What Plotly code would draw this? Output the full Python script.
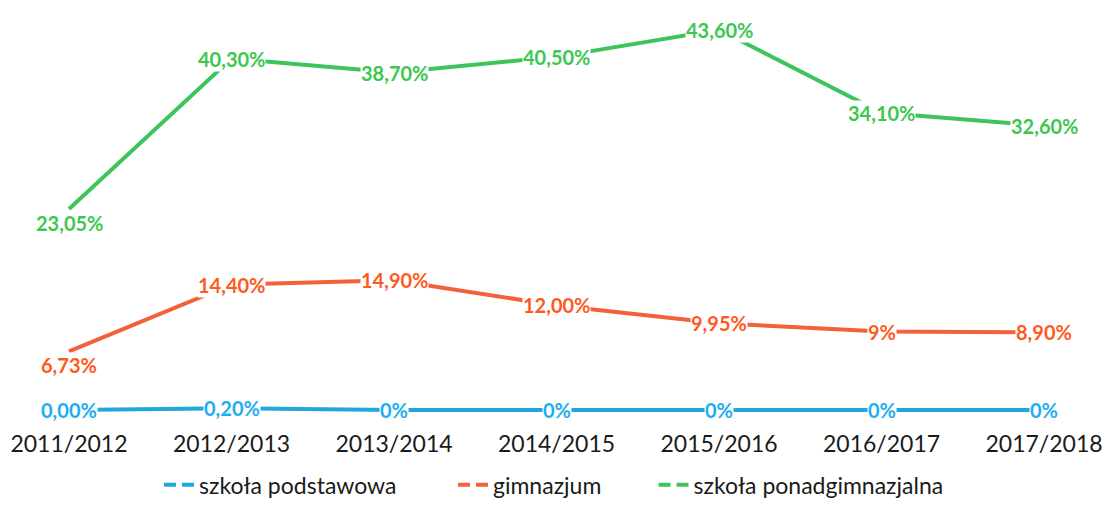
import plotly.graph_objects as go

categories = ["2011/2012", "2012/2013", "2013/2014", "2014/2015", "2015/2016", "2016/2017", "2017/2018"]
podstawowa = [0.00, 0.20, 0, 0, 0, 0, 0]
podstawowa_labels = ["0,00%", "0,20%", "0%", "0%", "0%", "0%", "0%"]
gimnazjum = [6.73, 14.40, 14.90, 12.00, 9.95, 9, 8.90]
gimnazjum_labels = ["6,73%", "14,40%", "14,90%", "12,00%", "9,95%", "9%", "8,90%"]
ponad = [23.05, 40.30, 38.70, 40.50, 43.60, 34.10, 32.60]
ponad_labels = ["23,05%", "40,30%", "38,70%", "40,50%", "43,60%", "34,10%", "32,60%"]
series_names = ["szkoła podstawowa", "gimnazjum", "szkoła ponadgimnazjalna"]

line_colors = ["#22A6E0", "#F2603C", "#3EC45C"]
text_colors = ["#1EAEF0", "#FF5A1E", "#3CC850"]

fig = go.Figure()
xs = list(range(len(categories)))
all_vals = [podstawowa, gimnazjum, ponad]
all_labels = [podstawowa_labels, gimnazjum_labels, ponad_labels]

for vals, name, lc in zip(all_vals, series_names, line_colors):
    fig.add_trace(go.Scatter(x=xs, y=vals, mode="lines", name=name,
                             line=dict(color=lc, width=4), showlegend=False))

# legend entries (dashed symbol like the original), one legend per item
legend_refs = ["legend", "legend2", "legend3"]
for name, lc, lg in zip(series_names, line_colors, legend_refs):
    fig.add_trace(go.Scatter(x=[None], y=[None], mode="lines", name=name, legend=lg,
                             line=dict(color=lc, width=4, dash="12px,6px"), showlegend=True))

annotations = []
for si, (vals, labels, tc) in enumerate(zip(all_vals, all_labels, text_colors)):
    for i, (v, lab) in enumerate(zip(vals, labels)):
        yshift = 0
        if i == 0 and si > 0:
            yshift = -14
        annotations.append(dict(x=xs[i], y=v, text=f"<b>{lab}</b>", showarrow=False,
                                font=dict(family="Lato", size=20, color=tc),
                                bgcolor="white", borderpad=0, yshift=yshift))

legend_font = dict(family="Lato", size=23, color="#1a1a1a")
fig.update_layout(
    width=1096, height=492,
    margin=dict(l=0, r=0, t=0, b=72, autoexpand=False),
    paper_bgcolor="white", plot_bgcolor="white",
    annotations=annotations,
    xaxis=dict(tickmode="array", tickvals=xs, ticktext=categories, range=[-0.3754, 6.369],
               showgrid=False, zeroline=False, showline=False, ticks="",
               tickfont=dict(family="Lato", size=23, color="#1a1a1a")),
    yaxis=dict(range=[-2.05, 46.1], showgrid=False, zeroline=False, showline=False,
               showticklabels=False, ticks=""),
    legend=dict(orientation="h", x=0.1378, xanchor="left", y=-0.135, yanchor="middle", font=legend_font),
    legend2=dict(orientation="h", x=0.406, xanchor="left", y=-0.135, yanchor="middle", font=legend_font),
    legend3=dict(orientation="h", x=0.589, xanchor="left", y=-0.135, yanchor="middle", font=legend_font),
)

fig.write_html("out.html")
